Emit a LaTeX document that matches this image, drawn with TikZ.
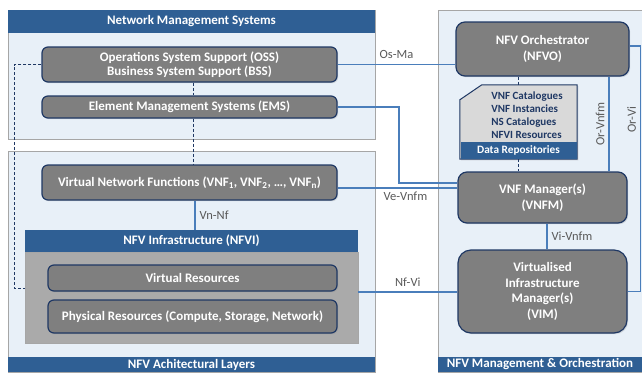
\documentclass[tikz,border=0pt]{standalone}
\usepackage{fontspec}
\setmainfont{Carlito}
\usetikzlibrary{positioning,calc,shadows}

\definecolor{hdrblue}{RGB}{47,95,148}
\definecolor{panelbg}{RGB}{232,240,248}
\definecolor{nodegray}{RGB}{127,127,127}
\definecolor{navy}{RGB}{31,56,100}
\definecolor{ifblue}{RGB}{74,126,187}
\definecolor{bodygray}{RGB}{170,170,170}
\definecolor{repogray}{RGB}{217,217,217}
\definecolor{lblgray}{RGB}{89,89,89}

\begin{document}
\begin{tikzpicture}[
      x=1pt, y=-1pt,
      panel/.style={draw=gray!70, fill=panelbg, inner sep=0pt},
      hdr/.style={fill=hdrblue, text=white, inner sep=0pt, font=\bfseries\fontsize{13}{15}\selectfont},
      fn/.style={draw=navy, line width=1.2pt, fill=nodegray, rounded corners=6pt, text=white, align=center,
        inner sep=0pt, font=\bfseries\fontsize{13}{14.5}\selectfont,
        drop shadow={shadow xshift=1.2pt, shadow yshift=-1.2pt, opacity=0.25}},
      ifline/.style={draw=ifblue, line width=1.1pt},
      mgmtlink/.style={draw=navy, densely dashed, line width=0.5pt},
      lbl/.style={text=lblgray, font=\fontsize{12.5}{14}\selectfont, inner sep=2pt}
    ]
    \useasboundingbox (0,0) rectangle (642,372);

    % panels
    \node[panel, minimum width=367pt, minimum height=129pt] (nms) at (191.5,74.5) {};
    \node[hdr, minimum width=367pt, minimum height=23pt] (nmsHdr) at (191.5,21.5) {Network Management Systems};
    \node[panel, minimum width=367pt, minimum height=221pt] (layers) at (191.5,261.5) {};
    \node[hdr, minimum width=367pt, minimum height=15pt] (layersFtr) at (191.5,364.5) {NFV Achitectural Layers};
    \node[panel, minimum width=204pt, minimum height=362pt] (mano) at (540,191) {};
    \node[hdr, minimum width=204pt, minimum height=15pt] (manoFtr) at (540,364.5) {NFV Management \& Orchestration};

    % NMS
    \node[fn, minimum width=295pt, minimum height=35pt] (oss) at (189.5,64.5)
      {Operations System Support (OSS)\\Business System Support (BSS)};
    \node[fn, minimum width=295pt, minimum height=22pt] (ems) at (189.5,107) {Element Management Systems (EMS)};

    % layers
    \node[fn, minimum width=295pt, minimum height=35pt] (vnf) at (189.5,182.5)
      {Virtual Network Functions (VNF\textsubscript{1}, VNF\textsubscript{2}, \dots, VNF\textsubscript{n})};
    \node[hdr, minimum width=333pt, minimum height=22pt] (nfviHdr) at (191.5,241) {NFV Infrastructure (NFVI)};
    \node[draw=gray!70, fill=bodygray, minimum width=333pt, minimum height=91pt, inner sep=0pt] (nfviBody) at (191.5,297.5) {};
    \node[fn, minimum width=289pt, minimum height=26pt] (vres) at (192.5,278) {Virtual Resources};
    \node[fn, minimum width=289pt, minimum height=33pt] (pres) at (192.5,316.5)
      {Physical Resources (Compute, Storage, Network)};

    % MANO
    \node[fn, minimum width=173pt, minimum height=54pt, rounded corners=9pt, font=\bfseries\fontsize{13}{16}\selectfont]
      (nfvo) at (542.5,49) {NFV Orchestrator\\(NFVO)};
    \node[minimum width=117pt, minimum height=74pt, inner sep=0pt] (repo) at (518.5,122) {};
    \filldraw[draw=navy, line width=1pt, fill=repogray, drop shadow={shadow xshift=1.2pt, shadow yshift=-1.2pt, opacity=0.25}]
      ([xshift=22pt]repo.north west) -- (repo.north east) -- (repo.south east) -- (repo.south west)
      -- ([yshift=-15pt]repo.north west) -- cycle;
    \node[fill=hdrblue, text=white, minimum width=116pt, minimum height=17pt, inner sep=0pt,
      font=\bfseries\fontsize{11.3}{13}\selectfont] (repoBar) at (518.5,150.5) {Data Repositories};
    \node[text=navy, align=left, inner sep=0pt, font=\bfseries\fontsize{11}{13}\selectfont]
      (repoItems) at (527,115.5) {VNF Catalogues\\VNF Instancies\\NS Catalogues\\NFVI Resources};
    \node[fn, minimum width=169pt, minimum height=51pt, rounded corners=9pt, font=\bfseries\fontsize{13}{16}\selectfont]
      (vnfm) at (542.5,197.5) {VNF Manager(s)\\(VNFM)};
    \node[fn, minimum width=169pt, minimum height=83pt, rounded corners=13pt, font=\bfseries\fontsize{13}{15.5}\selectfont]
      (vim) at (542.5,291.5) {Virtualised\\Infrastructure\\Manager(s)\\(VIM)};

    % management links
    \coordinate (dotCorner) at (14,288);
    \draw[mgmtlink] (oss.west) -| (dotCorner) -- (dotCorner -| nfviBody.west);
    \draw[mgmtlink] ([xshift=3.5pt]oss.south) -- ([xshift=3.5pt]oss.south |- ems.north);
    \draw[mgmtlink] ([xshift=3.5pt]ems.south) -- ([xshift=3.5pt]ems.south |- vnf.north);
    \draw[mgmtlink] (repo.north |- nfvo.south) -- (repo.north);
    \draw[mgmtlink] (repoBar.south) -- (repoBar.south |- vnfm.north);

    % reference points
    \draw[ifline] (oss.east) -- node[midway,above,lbl,yshift=3pt] {Os-Ma} (oss.east -| nfvo.west);
    \coordinate (veBend) at (399,183);
    \draw[ifline] (ems.east) -| (veBend) -- (veBend -| vnfm.west);
    \draw[ifline] ([yshift=-5.5pt]vnf.east) -- node[midway,below,lbl,xshift=8pt,yshift=-1pt] {Ve-Vnfm}
      ([yshift=-5.5pt]vnf.east -| vnfm.west);
    \draw[ifline] ([xshift=5.5pt]vnf.south) -- node[midway,right,lbl,xshift=2pt] {Vn-Nf}
      ([xshift=5.5pt]vnf.south |- nfviHdr.north);
    \draw[ifline] ([yshift=5.5pt]nfviBody.east) -- node[midway,above,lbl,yshift=3pt] {Nf-Vi}
      ([yshift=5.5pt]nfviBody.east -| vim.west);
    \draw[ifline] ([xshift=4.5pt]vnfm.south) -- node[midway,right,lbl,xshift=2pt] {Vi-Vnfm}
      ([xshift=4.5pt]vnfm.south |- vim.north);
    \draw[ifline] ([xshift=66.5pt]nfvo.south) -- node[midway,left,lbl,rotate=90,anchor=south,yshift=2pt] {Or-Vnfm}
      ([xshift=66.5pt]nfvo.south |- vnfm.north);
    \draw[ifline] ([yshift=3pt]nfvo.east) -- ++(11,0) |- node[pos=0.15,lbl,rotate=90,anchor=south,yshift=2pt] {Or-Vi}
      (vim.east);
  \end{tikzpicture}
\end{document}
